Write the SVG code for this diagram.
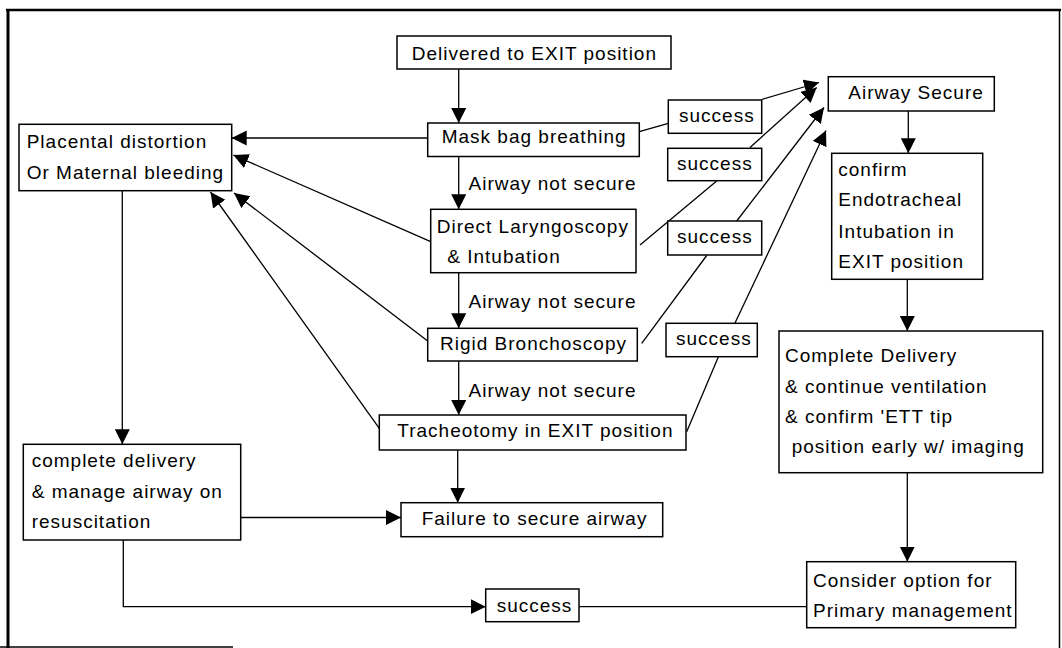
<svg xmlns="http://www.w3.org/2000/svg" width="1062" height="648" viewBox="0 0 1062 648">
<style>
  .box { fill: #ffffff; stroke: #000000; stroke-width: 1.5; }
  .t { font-family: "Liberation Sans", Arial, sans-serif; font-size: 19px; letter-spacing: 1px; fill: #000000; }
  .c { fill: none; stroke: #000000; stroke-width: 1.3; }
  .frame { fill: none; stroke: #000000; }
</style>
<defs>
  <marker id="ah" markerUnits="userSpaceOnUse" markerWidth="16" markerHeight="16" refX="15" refY="7.5" orient="auto">
    <path d="M0,0 L15,7.5 L0,15 z" fill="#000000"/>
  </marker>
</defs>
<rect width="1062" height="648" fill="#ffffff"/>
<g id="frame">
  <line class="frame" x1="6" y1="10" x2="1061" y2="10" stroke-width="2.5"/>
  <line class="frame" x1="8" y1="9" x2="8" y2="648" stroke-width="3"/>
  <line class="frame" x1="0" y1="647" x2="233" y2="647" stroke-width="1.5"/>
  <line class="frame" x1="1059.5" y1="10" x2="1059.5" y2="648" stroke-width="1.5"/>
</g>
<g id="connectors">
  <line class="c" x1="458.7" y1="69" x2="458.7" y2="123" marker-end="url(#ah)"/>
  <line class="c" x1="458.7" y1="156.5" x2="458.7" y2="209.3" marker-end="url(#ah)"/>
  <line class="c" x1="458.7" y1="272.7" x2="458.7" y2="328.3" marker-end="url(#ah)"/>
  <line class="c" x1="458.7" y1="361" x2="458.7" y2="415" marker-end="url(#ah)"/>
  <line class="c" x1="457.7" y1="450" x2="457.7" y2="502.7" marker-end="url(#ah)"/>
  <line class="c" x1="427.7" y1="138" x2="231.7" y2="138" marker-end="url(#ah)"/>
  <line class="c" x1="430.7" y1="241.7" x2="233.3" y2="155" marker-end="url(#ah)"/>
  <line class="c" x1="427.7" y1="341" x2="234" y2="193" marker-end="url(#ah)"/>
  <line class="c" x1="379.3" y1="428.3" x2="210.5" y2="192" marker-end="url(#ah)"/>
  <line class="c" x1="122.3" y1="190.7" x2="122.3" y2="444.3" marker-end="url(#ah)"/>
  <line class="c" x1="240.7" y1="517.5" x2="401" y2="517.5" marker-end="url(#ah)"/>
  <polyline class="c" points="123.3,540 123.3,606.7 485.7,606.7" marker-end="url(#ah)"/>
  <line class="c" x1="579" y1="606.7" x2="806.7" y2="606.7"/>
  <line class="c" x1="639.3" y1="131.7" x2="668.3" y2="123.3"/>
  <line class="c" x1="761.7" y1="99.5" x2="819" y2="82.5" marker-end="url(#ah)"/>
  <line class="c" x1="640" y1="245" x2="716.7" y2="181"/>
  <line class="c" x1="750" y1="147.5" x2="816.7" y2="87.5" marker-end="url(#ah)"/>
  <line class="c" x1="641.7" y1="343.3" x2="706.7" y2="255.5"/>
  <line class="c" x1="736.7" y1="221" x2="824" y2="107.5" marker-end="url(#ah)"/>
  <line class="c" x1="686.7" y1="431.7" x2="718.3" y2="357"/>
  <line class="c" x1="735" y1="323" x2="826" y2="130.5" marker-end="url(#ah)"/>
  <line class="c" x1="908.3" y1="111" x2="908.3" y2="153.3" marker-end="url(#ah)"/>
  <line class="c" x1="907.3" y1="279.3" x2="907.3" y2="331" marker-end="url(#ah)"/>
  <line class="c" x1="907.3" y1="472.7" x2="907.3" y2="561.7" marker-end="url(#ah)"/>
</g>
<g id="labels">
  <text class="t" x="468.5" y="190">Airway not secure</text>
  <text class="t" x="468.5" y="308.3">Airway not secure</text>
  <text class="t" x="468.5" y="396.7">Airway not secure</text>
</g>
<g id="n-delivered">
  <rect class="box" x="397" y="36" width="274" height="33"/>
  <text class="t" x="411.7" y="60">Delivered to EXIT position</text>
</g>
<g id="n-mask">
  <rect class="box" x="427.7" y="123" width="211.6" height="33.5"/>
  <text class="t" x="441.7" y="143.3">Mask bag breathing</text>
</g>
<g id="n-dl">
  <rect class="box" x="430.7" y="209.3" width="205.3" height="63.4"/>
  <text class="t" x="436.7" y="233.3">Direct Laryngoscopy</text>
  <text class="t" x="447.3" y="263.3">&amp; Intubation</text>
</g>
<g id="n-rigid">
  <rect class="box" x="427.7" y="328.3" width="209.6" height="32.7"/>
  <text class="t" x="440" y="350">Rigid Bronchoscopy</text>
</g>
<g id="n-trach">
  <rect class="box" x="379.3" y="415" width="306.7" height="35"/>
  <text class="t" x="397.3" y="437.3">Tracheotomy in EXIT position</text>
</g>
<g id="n-failure">
  <rect class="box" x="401" y="502.7" width="261.7" height="34"/>
  <text class="t" x="421.7" y="525">Failure to secure airway</text>
</g>
<g id="n-placental">
  <rect class="box" x="19" y="124.3" width="212.7" height="66.4"/>
  <text class="t" x="26.7" y="147.7">Placental distortion</text>
  <text class="t" x="26.7" y="179.3">Or Maternal bleeding</text>
</g>
<g id="n-complete-left">
  <rect class="box" x="23.3" y="444.3" width="217.4" height="95.7"/>
  <text class="t" x="31.7" y="466.7">complete delivery</text>
  <text class="t" x="31.7" y="498.3">&amp; manage airway on</text>
  <text class="t" x="31.7" y="528.3">resuscitation</text>
</g>
<g id="n-success1">
  <rect class="box" x="668.3" y="100" width="93.4" height="33.3"/>
  <text class="t" x="679" y="121.7">success</text>
</g>
<g id="n-success2">
  <rect class="box" x="667.7" y="148.3" width="94" height="32.4"/>
  <text class="t" x="677" y="170">success</text>
</g>
<g id="n-success3">
  <rect class="box" x="667.7" y="221" width="94" height="34"/>
  <text class="t" x="677" y="243.3">success</text>
</g>
<g id="n-success4">
  <rect class="box" x="666" y="323.3" width="91.3" height="33.4"/>
  <text class="t" x="676" y="345">success</text>
</g>
<g id="n-success5">
  <rect class="box" x="485.7" y="589" width="93.3" height="32.7"/>
  <text class="t" x="496.7" y="612">success</text>
</g>
<g id="n-airway-secure">
  <rect class="box" x="828.3" y="76.7" width="166" height="34.3"/>
  <text class="t" x="848.3" y="99.3">Airway Secure</text>
</g>
<g id="n-confirm">
  <rect class="box" x="831.7" y="153.3" width="151" height="126"/>
  <text class="t" x="838.3" y="176">confirm</text>
  <text class="t" x="838.3" y="206">Endotracheal</text>
  <text class="t" x="838.3" y="238.3">Intubation in</text>
  <text class="t" x="838.3" y="268.3">EXIT position</text>
</g>
<g id="n-complete-right">
  <rect class="box" x="779" y="331" width="263.7" height="141.7"/>
  <text class="t" x="785" y="361.7">Complete Delivery</text>
  <text class="t" x="785" y="393.3">&amp; continue ventilation</text>
  <text class="t" x="785" y="423.3">&amp; confirm 'ETT tip</text>
  <text class="t" x="791.7" y="453.3">position early w/ imaging</text>
</g>
<g id="n-consider">
  <rect class="box" x="806.7" y="561.7" width="209" height="66"/>
  <text class="t" x="813" y="586.7">Consider option for</text>
  <text class="t" x="813" y="616.7">Primary management</text>
</g>
</svg>
